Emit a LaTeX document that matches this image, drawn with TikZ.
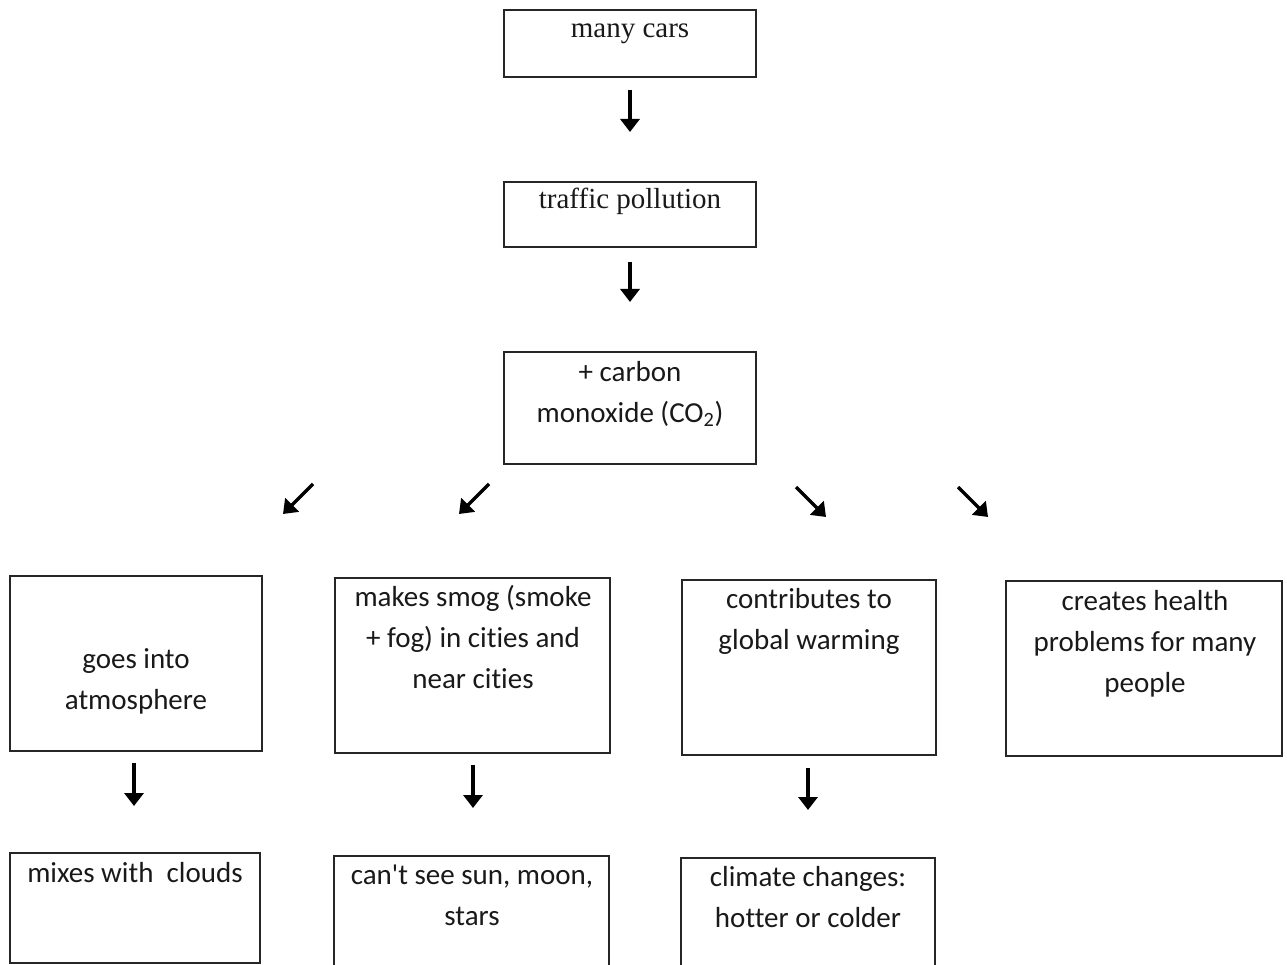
\documentclass[tikz,border=0pt]{standalone}
\usepackage{fontspec}
\setmainfont{Carlito}[Ligatures={NoCommon}]
\newfontfamily\timesf{Liberation Serif}
\usetikzlibrary{arrows.meta}
\begin{document}
\begin{tikzpicture}[x=1pt,y=-1pt,
 box/.style={draw=black!85,line width=1.4pt,inner sep=0pt},
 txt/.style={font=\fontsize{29}{41}\selectfont,align=center,inner sep=0pt,anchor=north,yshift=28.7pt,text=black!90},
 ttxt/.style={txt,font=\timesf\fontsize{29}{41}\selectfont},
 arr/.style={line width=3.4pt,-{Triangle[width=19pt,length=13pt]}}]
\useasboundingbox (0,0) rectangle (1287,965);
\clip (0,0) rectangle (1287,965);
% boxes
\node[box,minimum width=252pt,minimum height=67pt] (cars) at (630,43.5) {};
\node[box,minimum width=252pt,minimum height=65pt] (traffic) at (630,214.5) {};
\node[box,minimum width=252pt,minimum height=112pt] (co) at (630,408) {};
\node[box,minimum width=252pt,minimum height=175pt] (atm) at (136,663.5) {};
\node[box,minimum width=275pt,minimum height=175pt] (smog) at (472.5,665.5) {};
\node[box,minimum width=254pt,minimum height=175pt] (warm) at (809,667.5) {};
\node[box,minimum width=276pt,minimum height=175pt] (health) at (1144,668.5) {};
\node[box,minimum width=250pt,minimum height=110pt] (clouds) at (135,908) {};
\node[box,minimum width=275pt,minimum height=120pt] (sun) at (471.5,916) {};
\node[box,minimum width=254pt,minimum height=118pt] (climate) at (808,917) {};
% texts
\node[ttxt] (tcars) at (630,37) {\strut many cars};
\node[ttxt] (ttraffic) at (630,208) {\strut traffic pollution};
\node[txt] (tco) at (630,381) {\strut + carbon\\monoxide (CO\textsubscript{2})};
\node[txt] (tatm) at (136,668) {\strut goes into\\atmosphere};
\node[txt] (tsmog) at (473,606) {\strut makes smog (smoke\\+ fog) in cities and\\near cities};
\node[txt] (twarm) at (809,608) {\strut contributes to\\global warming};
\node[txt] (thealth) at (1145,610) {\strut creates health\\problems for many\\people};
\node[txt] (tclouds) at (135,882) {\strut mixes with\ \ clouds};
\node[txt] (tsun) at (472,884) {\strut can\textquotesingle t see sun, moon,\\stars};
\node[txt] (tclimate) at (808,886) {\strut climate changes:\\hotter or colder};
% arrow end points
\coordinate (a1s) at (630,90);   \coordinate (a1e) at (630,132);
\coordinate (a2s) at (630,262);  \coordinate (a2e) at (630,302);
\coordinate (a3s) at (313,484);  \coordinate (a3e) at (283,514);
\coordinate (a4s) at (489,484);  \coordinate (a4e) at (459,514);
\coordinate (a5s) at (796,487);  \coordinate (a5e) at (826,517);
\coordinate (a6s) at (958,487);  \coordinate (a6e) at (988,517);
\coordinate (a7s) at (134,763);  \coordinate (a7e) at (134,806);
\coordinate (a8s) at (473,765);  \coordinate (a8e) at (473,808);
\coordinate (a9s) at (808,768);  \coordinate (a9e) at (808,810);
\foreach \i in {1,...,9} \draw[arr] (a\i s) -- (a\i e);
\end{tikzpicture}
\end{document}
